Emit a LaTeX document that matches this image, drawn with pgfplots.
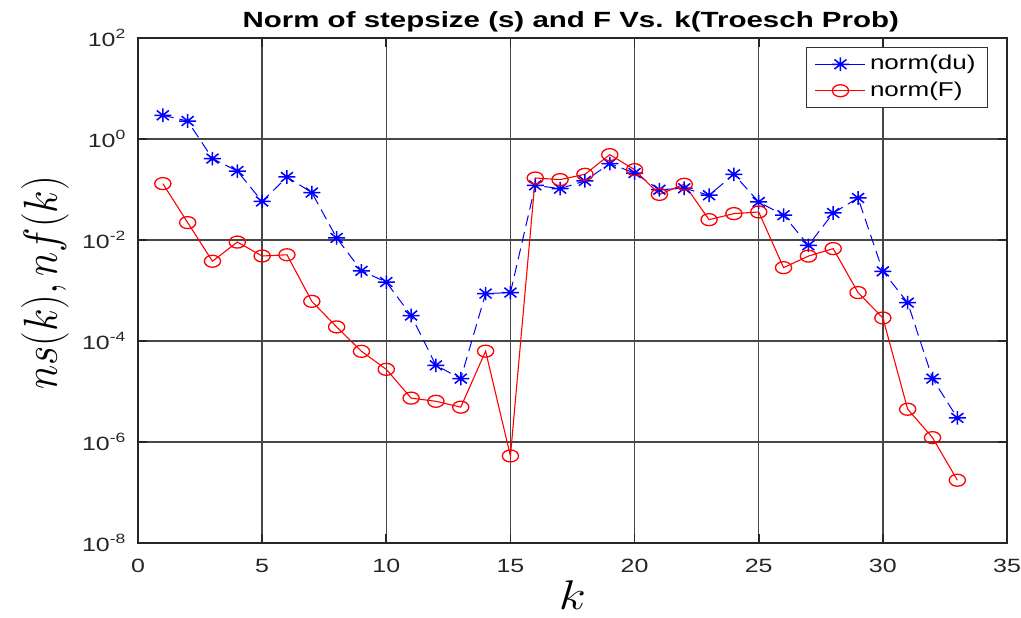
\documentclass[border=0pt]{standalone}
\usepackage{graphicx}
\usepackage{fontspec}
\setmainfont{Liberation Sans}
\usepackage{pgfplots}
\pgfplotsset{compat=1.18}
\usepackage{pgfplotstable}

\pgfdeclareplotmark{star8}{%
  \pgfpathmoveto{\pgfqpoint{-\pgfplotmarksize}{0pt}}\pgfpathlineto{\pgfqpoint{\pgfplotmarksize}{0pt}}%
  \pgfpathmoveto{\pgfqpoint{0pt}{-\pgfplotmarksize}}\pgfpathlineto{\pgfqpoint{0pt}{\pgfplotmarksize}}%
  \pgfpathmoveto{\pgfqpoint{-0.707\pgfplotmarksize}{-0.707\pgfplotmarksize}}\pgfpathlineto{\pgfqpoint{0.707\pgfplotmarksize}{0.707\pgfplotmarksize}}%
  \pgfpathmoveto{\pgfqpoint{-0.707\pgfplotmarksize}{0.707\pgfplotmarksize}}\pgfpathlineto{\pgfqpoint{0.707\pgfplotmarksize}{-0.707\pgfplotmarksize}}%
  \pgfusepathqstroke}

\pgfplotstableread{
k v
1 2.95
2 2.27
3 0.41
4 0.232
5 0.058
6 0.177
7 0.087
8 0.011
9 0.00245
10 0.00147
11 3.2e-4
12 3.3e-5
13 1.8e-5
14 8.7e-4
15 9.1e-4
16 0.121
17 0.104
18 0.148
19 0.326
20 0.212
21 0.099
22 0.106
23 0.077
24 0.2
25 0.0566
26 0.031
27 0.00785
28 0.0343
29 0.068
30 0.0024
31 5.75e-4
32 1.8e-5
33 3.0e-6
}\normdu

\pgfplotstableread{
k v
1 0.131
2 0.0221
3 0.0038
4 0.0091
5 0.00482
6 0.0051
7 6.1e-4
8 1.9e-4
9 6.25e-5
10 2.75e-5
11 7.4e-6
12 6.4e-6
13 4.9e-6
14 6.3e-5
15 5.3e-7
16 0.169
17 0.157
18 0.2
19 0.49
20 0.247
21 0.080
22 0.127
23 0.0253
24 0.0333
25 0.0359
26 0.00284
27 0.0048
28 0.00676
29 9.1e-4
30 2.86e-4
31 4.45e-6
32 1.22e-6
33 1.75e-7
}\normF

\newcommand{\sx}[1]{\scalebox{1.3}[1]{#1}}

\begin{document}
\begin{tikzpicture}
\begin{axis}[
  scale only axis,
  width=434.5pt, height=252.5pt,
  ymode=log,
  xmin=0, xmax=35, ymin=1e-8, ymax=1e2,
  xtick={0,5,...,35},
  xticklabels={\sx{0},\sx{5},\sx{10},\sx{15},\sx{20},\sx{25},\sx{30},\sx{35}},
  ytick={1e-8,1e-6,1e-4,1e-2,1,1e2},
  yticklabels={\sx{10\textsuperscript{-8}},\sx{10\textsuperscript{-6}},\sx{10\textsuperscript{-4}},\sx{10\textsuperscript{-2}},\sx{10\textsuperscript{0}},\sx{10\textsuperscript{2}}},
  yminorticks=false,
  tick align=inside,
  xtick pos=both, ytick pos=both,
  major tick length=4.3pt,
  tick style={line width=0.9pt, black!85},
  axis line style={line width=1pt, black!85},
  grid=major,
  major grid style={line width=0.75pt, black!72},
  ticklabel style={font=\fontsize{9.6}{11}\selectfont, text=black!85},
  xticklabel style={anchor=base, yshift=-14.5pt, inner sep=0pt},
  yticklabel style={anchor=east, xshift=-5.5pt, inner sep=0pt},
  title={\scalebox{1.34}[1]{\bfseries Norm of stepsize (s) and F Vs. k(Troesch Prob)}},
  title style={font=\fontsize{11}{13}\selectfont, at={(axis description cs:0.498,0.998)}, anchor=base, inner sep=0pt},
  xlabel={\scalebox{1.2}[1]{$k$}},
  xlabel style={font=\fontsize{20}{24}\selectfont, at={(axis description cs:0.5,-0.1307)}, anchor=base, inner sep=0pt},
  ylabel={\scalebox{1}[1.15]{$ns(k),nf(k)$}},
  ylabel style={font=\fontsize{20}{24}\selectfont, at={(axis description cs:-0.107,0.515)}, anchor=center, inner sep=0pt},
  legend style={at={(axis description cs:1,1)}, anchor=north east, xshift=-9.5pt, yshift=-4.5pt,
     draw=black!80, line width=0.5pt, font=\fontsize{10}{12}\selectfont, row sep=0.5pt,
     inner xsep=4pt, inner ysep=2pt, fill=white},
  legend cell align=left,
  legend image code/.code={%
    \draw[#1, solid] (0pt,0pt) -- (25pt,0pt);
    \draw[#1, solid] plot coordinates {(12.5pt,0pt)};},
]
\addplot[blue, line width=0.5pt, dash pattern=on 5.5pt off 3pt, mark=star8, mark size=3.4pt,
  mark options={solid, line width=0.75pt, xscale=1.25}] table[x=k, y=v] {\normdu};
\addlegendentry{\sx{norm(du)}}
\addplot[red, line width=0.55pt, mark=o, mark size=3pt,
  mark options={solid, line width=0.65pt, xscale=1.35}] table[x=k, y=v] {\normF};
\addlegendentry{\sx{norm(F)}}
\end{axis}
\pgfresetboundingbox
\path ([shift={(-69pt,-37pt)}]current axis.south west) rectangle ([shift={(7pt,19pt)}]current axis.north east);
\end{tikzpicture}
\end{document}
